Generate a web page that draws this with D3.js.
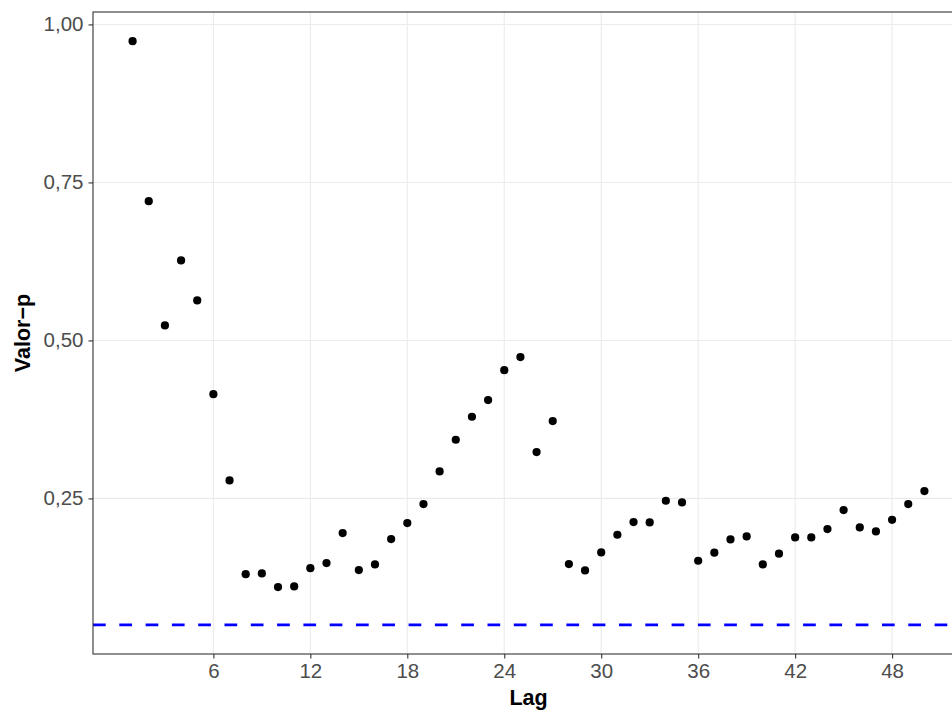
<!DOCTYPE html>
<html>
<head>
<meta charset="utf-8">
<script src="https://cdn.jsdelivr.net/npm/d3@7"></script>
<style>
  html, body { margin: 0; padding: 0; background: #ffffff; }
  svg { display: block; font-family: "Liberation Sans", Arial, sans-serif; }
</style>
</head>
<body>
<svg id="chart" width="952" height="711"></svg>
<script>
// ---- data ----
const lags = d3.range(1, 51);
const pValues = [
  0.9735, 0.7204, 0.5237, 0.6266, 0.5633, 0.4150, 0.2785, 0.1302, 0.1313, 0.1097,
  0.1108, 0.1397, 0.1477, 0.1951, 0.1366, 0.1456, 0.1856, 0.2110, 0.2410, 0.2927,
  0.3428, 0.3792, 0.4056, 0.4530, 0.4736, 0.3233, 0.3724, 0.1461, 0.1361, 0.1646,
  0.1925, 0.2126, 0.2120, 0.2463, 0.2437, 0.1514, 0.1641, 0.1851, 0.1899, 0.1456,
  0.1625, 0.1883, 0.1883, 0.2015, 0.2315, 0.2041, 0.1978, 0.2162, 0.2410, 0.2616
];
const threshold = 0.05;
const xTicks = [6, 12, 18, 24, 30, 36, 42, 48];
const yTicks = [0.25, 0.50, 0.75, 1.00];
const xTitle = "Lag";
const yTitle = "Valor\u2212p";

// ---- layout ----
const panel = { left: 93, right: 964, top: 12, bottom: 654 };
const svg = d3.select("#chart");

const xMin = d3.min(lags), xMax = d3.max(lags);
const xPad = (xMax - xMin) * 0.05;
const x = d3.scaleLinear().domain([xMin - xPad, xMax + xPad]).range([panel.left, panel.right]);

const yLo = Math.min(threshold, d3.min(pValues)), yHi = Math.max(threshold, d3.max(pValues));
const yPad = (yHi - yLo) * 0.05;
const y = d3.scaleLinear().domain([yLo - yPad, yHi + yPad]).range([panel.bottom, panel.top]);

const fmt = v => d3.format(".2f")(v).replace(".", ",");

// panel background
svg.append("rect")
  .attr("x", panel.left).attr("y", panel.top)
  .attr("width", panel.right - panel.left).attr("height", panel.bottom - panel.top)
  .attr("fill", "#ffffff");

// gridlines
const grid = svg.append("g");
grid.selectAll("line.gx").data(xTicks).join("line")
  .attr("x1", d => x(d)).attr("x2", d => x(d))
  .attr("y1", panel.top).attr("y2", panel.bottom)
  .attr("stroke", "#ebebeb").attr("stroke-width", 1.1);
grid.selectAll("line.gy").data(yTicks).join("line")
  .attr("x1", panel.left).attr("x2", panel.right)
  .attr("y1", d => y(d)).attr("y2", d => y(d))
  .attr("stroke", "#ebebeb").attr("stroke-width", 1.1);

// threshold dashed line
svg.append("line")
  .attr("x1", panel.left).attr("x2", panel.right)
  .attr("y1", y(threshold)).attr("y2", y(threshold))
  .attr("stroke", "#0000ff").attr("stroke-width", 2.8)
  .attr("stroke-dasharray", "12.7,13.6");

// points
svg.append("g").selectAll("circle").data(lags).join("circle")
  .attr("cx", (d) => x(d))
  .attr("cy", (d, i) => y(pValues[i]))
  .attr("r", 4.1)
  .attr("fill", "#000000");

// panel border
svg.append("rect")
  .attr("x", panel.left).attr("y", panel.top)
  .attr("width", panel.right - panel.left).attr("height", panel.bottom - panel.top)
  .attr("fill", "none").attr("stroke", "#333333").attr("stroke-width", 1.1);

// axes
const xAxis = d3.axisBottom(x).tickValues(xTicks).tickSize(4.5).tickPadding(5).tickFormat(d3.format("d"));
const gx = svg.append("g").attr("transform", `translate(0,${panel.bottom})`).call(xAxis);
gx.select(".domain").remove();
gx.selectAll(".tick line").attr("stroke", "#333333").attr("stroke-width", 1.1);
gx.selectAll(".tick text").attr("fill", "#4d4d4d").attr("font-size", "20.5px")
  .attr("font-family", "Liberation Sans, Arial, sans-serif");

const yAxis = d3.axisLeft(y).tickValues(yTicks).tickSize(4.5).tickPadding(5).tickFormat(fmt);
const gy = svg.append("g").attr("transform", `translate(${panel.left},0)`).call(yAxis);
gy.select(".domain").remove();
gy.selectAll(".tick line").attr("stroke", "#333333").attr("stroke-width", 1.1);
gy.selectAll(".tick text").attr("fill", "#4d4d4d").attr("font-size", "20.5px")
  .attr("font-family", "Liberation Sans, Arial, sans-serif");

// axis titles
svg.append("text")
  .attr("x", (panel.left + panel.right) / 2).attr("y", 704.5)
  .attr("text-anchor", "middle")
  .attr("font-size", "21.5px").attr("font-weight", "bold").attr("fill", "#000000")
  .text(xTitle);

svg.append("text")
  .attr("transform", `translate(29.5,${(panel.top + panel.bottom) / 2}) rotate(-90)`)
  .attr("text-anchor", "middle")
  .attr("font-size", "21.5px").attr("font-weight", "bold").attr("fill", "#000000")
  .text(yTitle);
</script>
</body>
</html>
